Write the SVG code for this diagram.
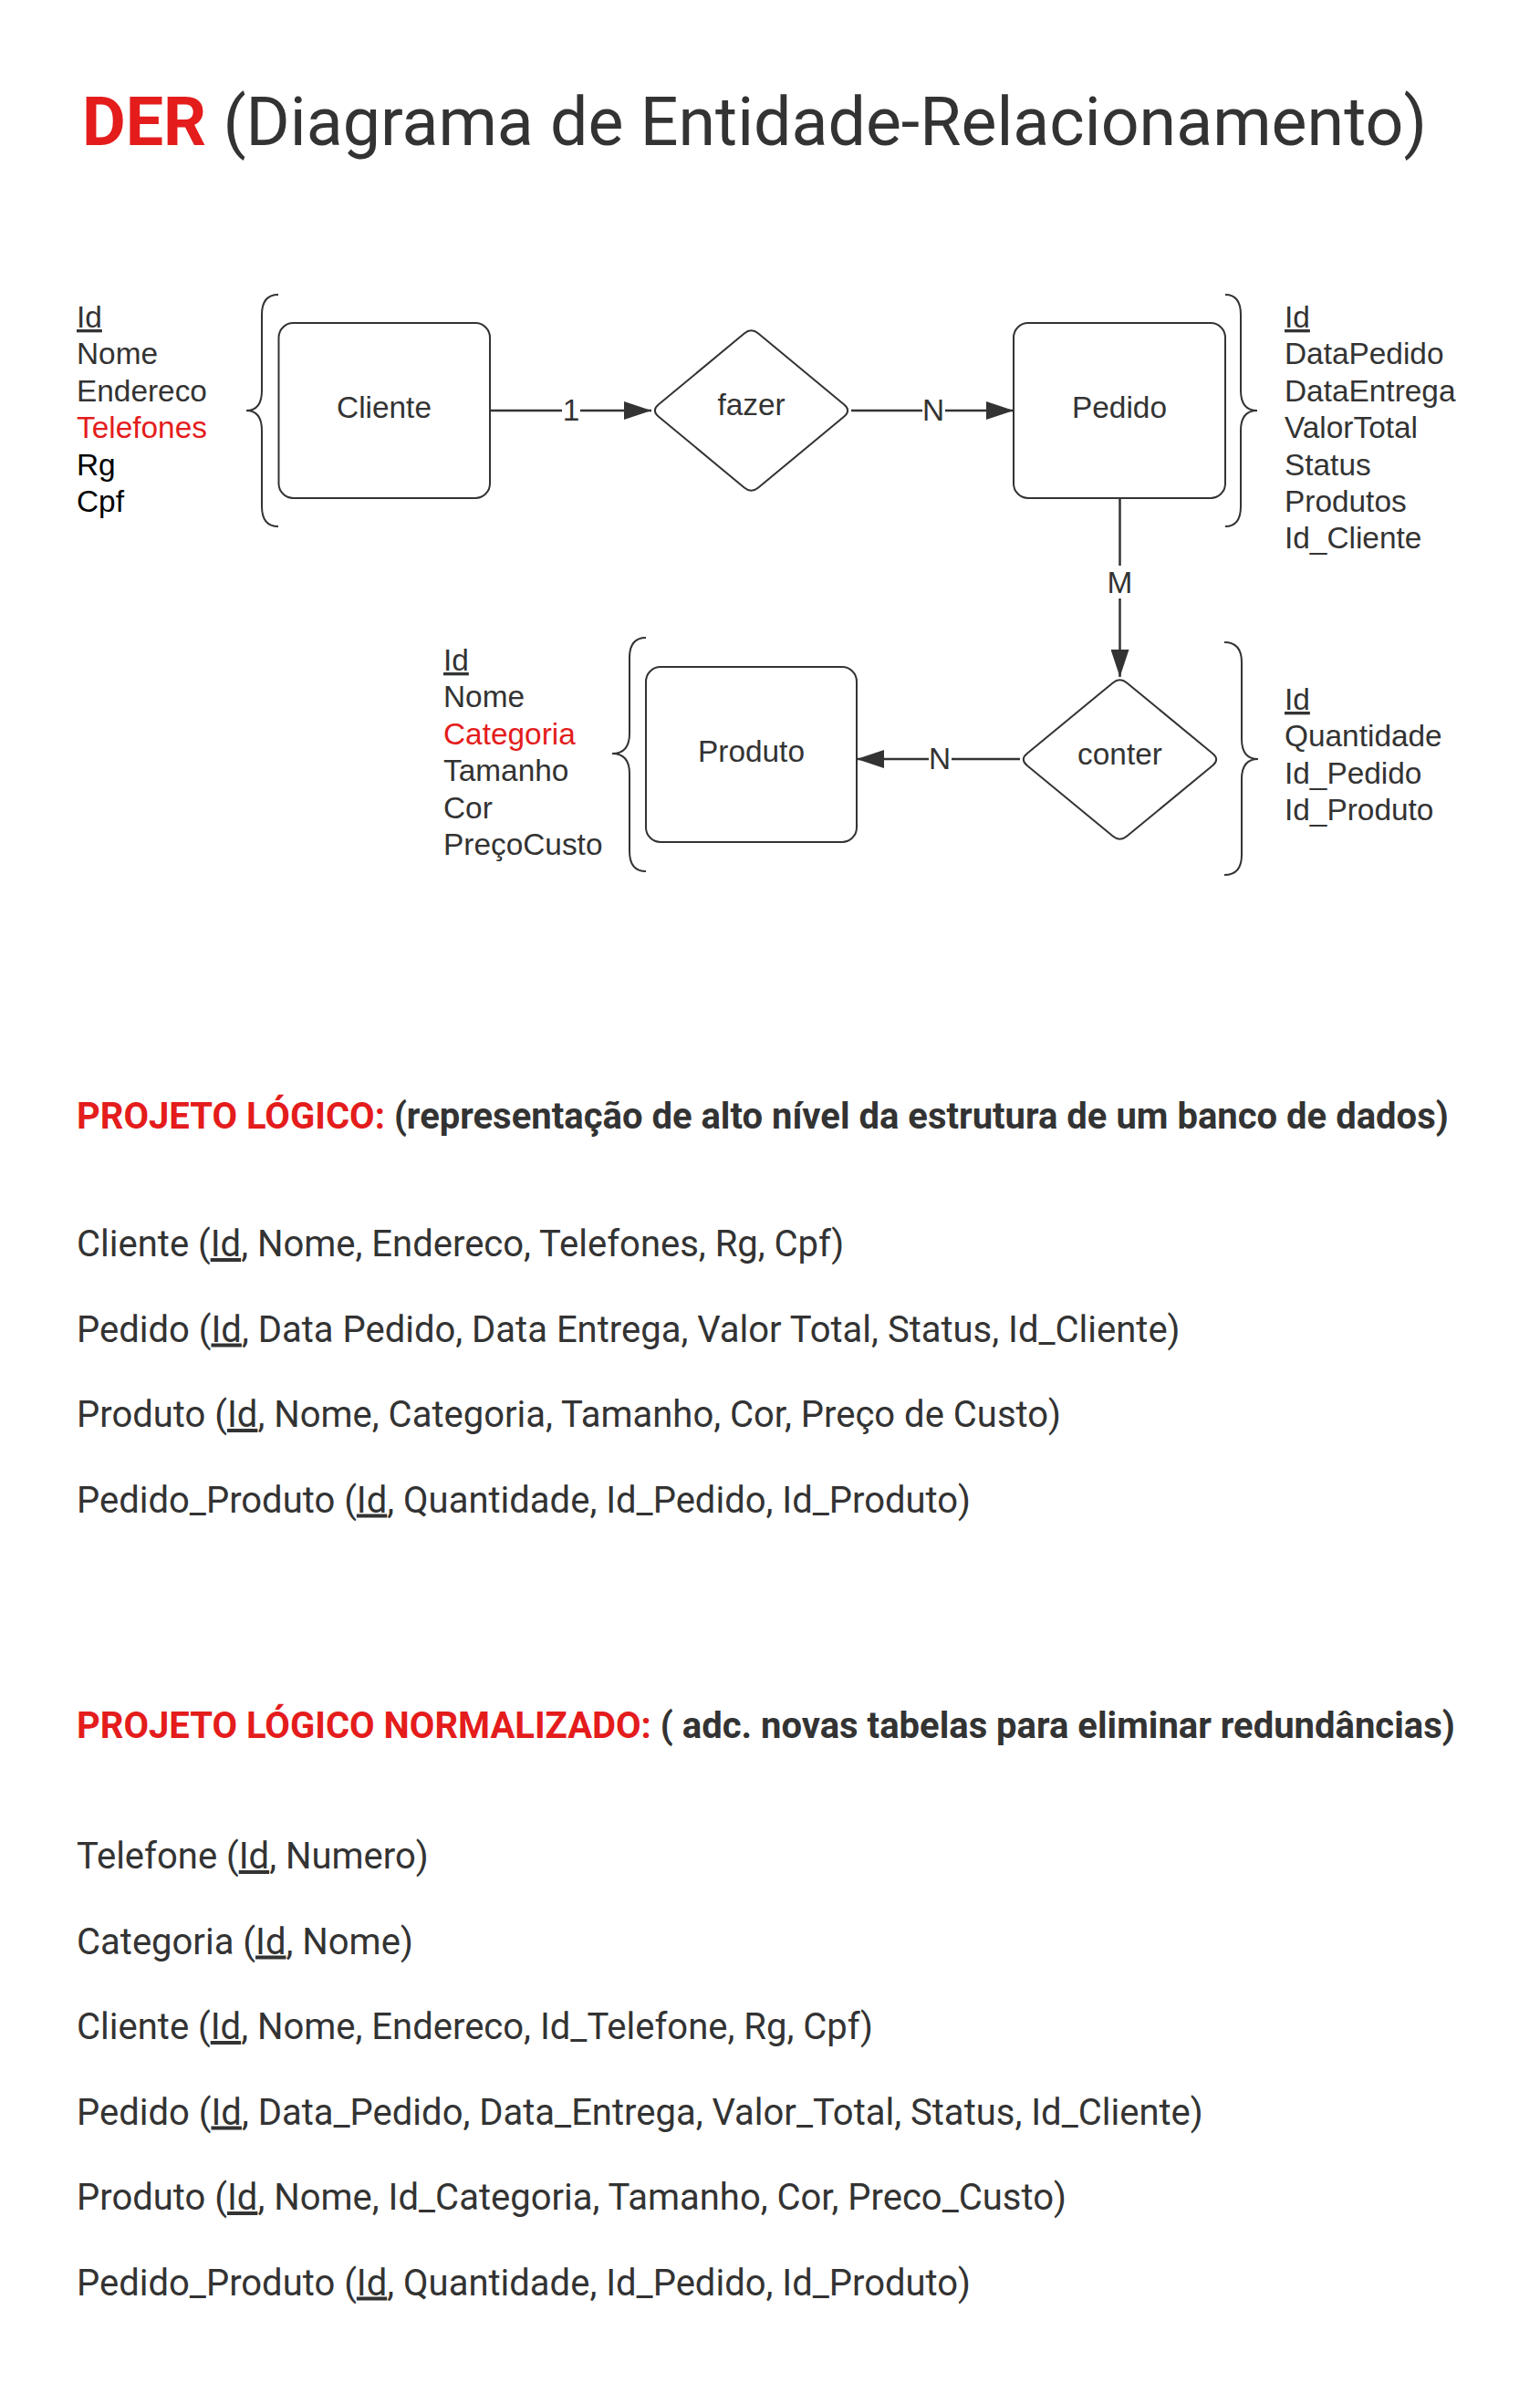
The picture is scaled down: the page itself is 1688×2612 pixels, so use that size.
<svg xmlns="http://www.w3.org/2000/svg" width="1688" height="2612" viewBox="0 0 1688 2612">
<style>
.bg{fill:#ffffff}
.ttl{font-family:Roboto,"Liberation Sans",sans-serif;font-size:73.5px;fill:#333333}
.hd{font-family:Roboto,"Liberation Sans",sans-serif;font-size:40px;font-weight:bold;fill:#333333}
.body{font-family:Roboto,"Liberation Sans",sans-serif;font-size:40px;fill:#333333}
.u{text-decoration:underline}
.dt{font-family:"Liberation Sans",Arial,sans-serif;font-size:33.4px;fill:#333333}
.dt.blk{fill:#000000}
.red,.dt.red{fill:#e41c1c}
.b{font-weight:bold}
.shape{fill:#ffffff;stroke:#333333;stroke-width:2}
.brace{fill:none;stroke:#333333;stroke-width:2}
.conn{fill:none;stroke:#333333;stroke-width:2.5}
.lblbg{fill:#ffffff}
</style>
<defs>
<marker id="arr" markerUnits="userSpaceOnUse" markerWidth="30" markerHeight="20" refX="30" refY="10" orient="auto">
<path d="M0,0 L30,10 L0,20 Z" fill="#333333"/>
</marker>
</defs>
<rect class="bg" x="0" y="0" width="1688" height="2612"/>

<text class="ttl" x="90" y="159"><tspan class="red b">DER</tspan> (Diagrama de Entidade-Relacionamento)</text>

<g id="connectors">
<line class="conn" x1="537" y1="450" x2="714" y2="450" marker-end="url(#arr)"/>
<rect class="lblbg" x="616" y="432" width="20" height="34"/>
<text class="dt" x="626" y="461" text-anchor="middle">1</text>
<line class="conn" x1="933" y1="450" x2="1111" y2="450" marker-end="url(#arr)"/>
<rect class="lblbg" x="1011" y="432" width="25" height="34"/>
<text class="dt" x="1023" y="461" text-anchor="middle">N</text>
<line class="conn" x1="1227.5" y1="546" x2="1227.5" y2="742" marker-end="url(#arr)"/>
<rect class="lblbg" x="1212" y="620" width="31" height="36"/>
<text class="dt" x="1227.5" y="650" text-anchor="middle">M</text>
<line class="conn" x1="1118" y1="832" x2="939" y2="832" marker-end="url(#arr)"/>
<rect class="lblbg" x="1018" y="814" width="25" height="34"/>
<text class="dt" x="1030" y="843" text-anchor="middle">N</text>
</g>

<g id="cliente">
<path class="brace" d="M305,323 Q287,323 287,345 L287,428 Q287,450 270,450 Q287,450 287,472 L287,555 Q287,577 305,577"/>
<rect class="shape" x="305.5" y="354" width="231.5" height="192" rx="16" ry="16"/>
<text class="dt" x="421" y="458" text-anchor="middle">Cliente</text>
<text class="dt" x="84" y="359"><tspan class="u">Id</tspan></text>
<text class="dt" x="84" y="399.4">Nome</text>
<text class="dt" x="84" y="439.8">Endereco</text>
<text class="dt red" x="84" y="480.2">Telefones</text>
<text class="dt blk" x="84" y="520.6">Rg</text>
<text class="dt blk" x="84" y="561">Cpf</text>
</g>

<g id="fazer">
<path class="shape" d="M721.7,443.6 L815.8,365.4 Q823.5,359 831.2,365.4 L925.3,443.6 Q933,450 925.3,456.4 L831.2,534.6 Q823.5,541 815.8,534.6 L721.7,456.4 Q714,450 721.7,443.6 Z"/>
<text class="dt" x="823.5" y="455" text-anchor="middle">fazer</text>
</g>

<g id="pedido">
<rect class="shape" x="1111" y="354" width="232" height="192" rx="16" ry="16"/>
<text class="dt" x="1227" y="458" text-anchor="middle">Pedido</text>
<path class="brace" d="M1343,323 Q1360,323 1360,345 L1360,428 Q1360,450 1378,450 Q1360,450 1360,472 L1360,555 Q1360,577 1343,577"/>
<text class="dt" x="1408" y="359"><tspan class="u">Id</tspan></text>
<text class="dt" x="1408" y="399.4">DataPedido</text>
<text class="dt" x="1408" y="439.8">DataEntrega</text>
<text class="dt" x="1408" y="480.2">ValorTotal</text>
<text class="dt" x="1408" y="520.6">Status</text>
<text class="dt" x="1408" y="561">Produtos</text>
<text class="dt" x="1408" y="601.4">Id_Cliente</text>
</g>

<g id="produto">
<path class="brace" d="M708,699 Q690,699 690,721 L690,804 Q690,826 671,826 Q690,826 690,848 L690,933 Q690,955 708,955"/>
<rect class="shape" x="708" y="731" width="231" height="192" rx="16" ry="16"/>
<text class="dt" x="823.5" y="835" text-anchor="middle">Produto</text>
<text class="dt" x="486" y="735"><tspan class="u">Id</tspan></text>
<text class="dt" x="486" y="775.4">Nome</text>
<text class="dt red" x="486" y="815.8">Categoria</text>
<text class="dt" x="486" y="856.2">Tamanho</text>
<text class="dt" x="486" y="896.6">Cor</text>
<text class="dt" x="486" y="937">PreçoCusto</text>
</g>

<g id="conter">
<path class="shape" d="M1125.7,826.1 L1219.8,748.4 Q1227.5,742 1235.2,748.4 L1329.3,826.1 Q1337,832.5 1329.3,838.9 L1235.2,916.6 Q1227.5,923 1219.8,916.6 L1125.7,838.9 Q1118,832.5 1125.7,826.1 Z"/>
<text class="dt" x="1227.5" y="838" text-anchor="middle">conter</text>
<path class="brace" d="M1342,704 Q1361,704 1361,726 L1361,810 Q1361,832 1379,832 Q1361,832 1361,854 L1361,937 Q1361,959 1342,959"/>
<text class="dt" x="1408" y="778"><tspan class="u">Id</tspan></text>
<text class="dt" x="1408" y="818.4">Quantidade</text>
<text class="dt" x="1408" y="858.8">Id_Pedido</text>
<text class="dt" x="1408" y="899.2">Id_Produto</text>
</g>

<text class="hd" x="84" y="1237"><tspan class="red">PROJETO LÓGICO:</tspan> (representação de alto nível da estrutura de um banco de dados)</text>

<text class="body" x="84" y="1377">Cliente (<tspan class="u">Id</tspan>, Nome, Endereco, Telefones, Rg, Cpf)</text>
<text class="body" x="84" y="1470.5">Pedido (<tspan class="u">Id</tspan>, Data Pedido, Data Entrega, Valor Total, Status, Id_Cliente)</text>
<text class="body" x="84" y="1564">Produto (<tspan class="u">Id</tspan>, Nome, Categoria, Tamanho, Cor, Preço de Custo)</text>
<text class="body" x="84" y="1657.5">Pedido_Produto (<tspan class="u">Id</tspan>, Quantidade, Id_Pedido, Id_Produto)</text>

<text class="hd" x="84" y="1905"><tspan class="red">PROJETO LÓGICO NORMALIZADO:</tspan> ( adc. novas tabelas para eliminar redundâncias)</text>

<text class="body" x="84" y="2048">Telefone (<tspan class="u">Id</tspan>, Numero)</text>
<text class="body" x="84" y="2141.5">Categoria (<tspan class="u">Id</tspan>, Nome)</text>
<text class="body" x="84" y="2235">Cliente (<tspan class="u">Id</tspan>, Nome, Endereco, Id_Telefone, Rg, Cpf)</text>
<text class="body" x="84" y="2328.5">Pedido (<tspan class="u">Id</tspan>, Data_Pedido, Data_Entrega, Valor_Total, Status, Id_Cliente)</text>
<text class="body" x="84" y="2422">Produto (<tspan class="u">Id</tspan>, Nome, Id_Categoria, Tamanho, Cor, Preco_Custo)</text>
<text class="body" x="84" y="2515.5">Pedido_Produto (<tspan class="u">Id</tspan>, Quantidade, Id_Pedido, Id_Produto)</text>
</svg>
